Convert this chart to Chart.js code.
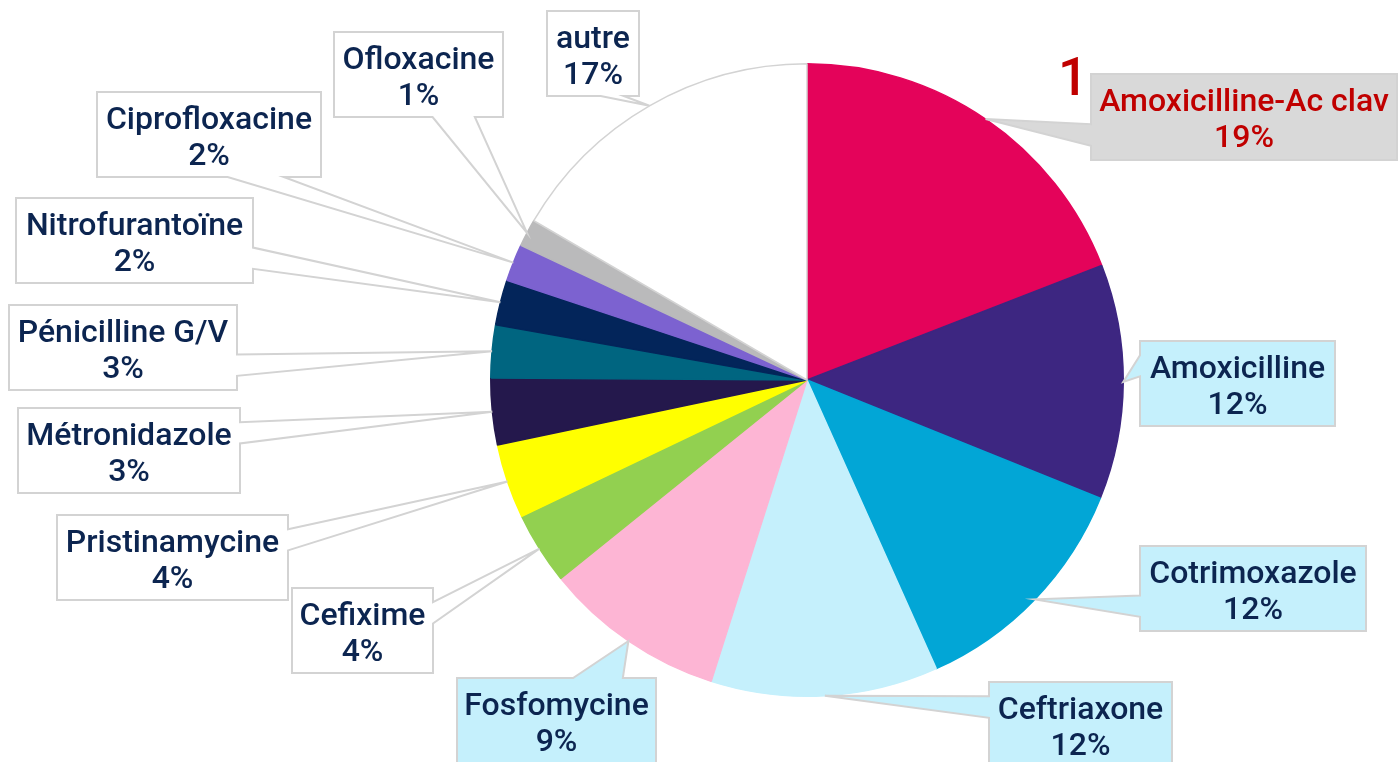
<!DOCTYPE html>
<html lang="fr">
<head>
<meta charset="utf-8">
<script src="https://cdn.jsdelivr.net/npm/chart.js@4/dist/chart.umd.min.js"></script>
<style>
    html, body { margin: 0; padding: 0; background: #ffffff; }
    #wrap { width: 1399px; height: 762px; position: relative; }
</style>
</head>
<body>
<div id="wrap"><canvas id="chart-antibio"></canvas></div>
<script>
const antibiotiques = ['Amoxicilline-Ac clav', 'Amoxicilline', 'Cotrimoxazole', 'Ceftriaxone', 'Fosfomycine', 'Cefixime', 'Pristinamycine', 'Métronidazole', 'Pénicilline G/V', 'Nitrofurantoïne', 'Ciprofloxacine', 'Ofloxacine', 'autre'];
const parts = [19.1, 12.0, 12.2, 11.6, 9.3, 3.7, 3.8, 3.4, 2.7, 2.3, 1.9, 1.4, 16.6];
const couleurs = ['#E4035A', '#3D2681', '#02A6D6', '#C5F0FC', '#FDB5D4', '#92D050', '#FFFF00', '#24184C', '#006580', '#03255A', '#7C62D0', '#BABABB', '#FFFFFF'];
const rang = '1';

// callout boxes (layout only): x, y, w, h, side of the wedge, fill, text colour
const boites = [
    { x: 1091, y: 74, w: 306, h: 86, side: 'left', fill: '#D9D9D9', color: '#C00000' },
    { x: 1140, y: 341, w: 195, h: 85, side: 'left', fill: '#C5F0FC' },
    { x: 1140, y: 546, w: 226, h: 85, side: 'left', fill: '#C5F0FC' },
    { x: 989, y: 682, w: 183, h: 86, side: 'left', fill: '#C5F0FC' },
    { x: 457, y: 678, w: 199, h: 86, side: 'top', fill: '#C5F0FC' },
    { x: 292, y: 588, w: 141, h: 85, side: 'right', fill: '#FFFFFF' },
    { x: 57, y: 515, w: 231, h: 85, side: 'right', fill: '#FFFFFF' },
    { x: 18, y: 408, w: 222, h: 85, side: 'right', fill: '#FFFFFF' },
    { x: 9, y: 305, w: 228, h: 85, side: 'right', fill: '#FFFFFF' },
    { x: 16, y: 198, w: 237, h: 85, side: 'right', fill: '#FFFFFF' },
    { x: 97, y: 92, w: 224, h: 85, side: 'bottom', fill: '#FFFFFF' },
    { x: 334, y: 32, w: 169, h: 85, side: 'bottom', fill: '#FFFFFF' },
    { x: 547, y: 11, w: 92, h: 85, side: 'bottom', fill: '#FFFFFF' }
];

const texteCouleur = '#0C2550';
const police = '500 32px Roboto';

function cheminBulle(ctx, b, tip) {
    const { x, y, w, h, side } = b;
    const cx = x + w / 2;
    const cy = y + h / 2;
    const fx = tip.x > cx ? [7, 10] : [2, 5];
    const fy = tip.y > cy ? [7, 10] : [2, 5];
    ctx.beginPath();
    ctx.moveTo(x, y);
    if (side === 'top') {
        ctx.lineTo(x + w * fx[0] / 12, y);
        ctx.lineTo(tip.x, tip.y);
        ctx.lineTo(x + w * fx[1] / 12, y);
    }
    ctx.lineTo(x + w, y);
    if (side === 'right') {
        ctx.lineTo(x + w, y + h * fy[0] / 12);
        ctx.lineTo(tip.x, tip.y);
        ctx.lineTo(x + w, y + h * fy[1] / 12);
    }
    ctx.lineTo(x + w, y + h);
    if (side === 'bottom') {
        ctx.lineTo(x + w * fx[1] / 12, y + h);
        ctx.lineTo(tip.x, tip.y);
        ctx.lineTo(x + w * fx[0] / 12, y + h);
    }
    ctx.lineTo(x, y + h);
    if (side === 'left') {
        ctx.lineTo(x, y + h * fy[1] / 12);
        ctx.lineTo(tip.x, tip.y);
        ctx.lineTo(x, y + h * fy[0] / 12);
    }
    ctx.closePath();
}

const bullesPlugin = {
    id: 'bulles',
    afterDatasetsDraw(chart) {
        const ctx = chart.ctx;
        const arcs = chart.getDatasetMeta(0).data;
        ctx.save();
        arcs.forEach((arc, i) => {
            const b = boites[i];
            const p = arc.getProps(['x', 'y', 'startAngle', 'endAngle', 'outerRadius'], true);
            const mid = (p.startAngle + p.endAngle) / 2;
            const tip = { x: p.x + Math.cos(mid) * p.outerRadius, y: p.y + Math.sin(mid) * p.outerRadius };
            cheminBulle(ctx, b, tip);
            ctx.fillStyle = b.fill;
            ctx.fill();
            ctx.lineWidth = 2;
            ctx.strokeStyle = '#D3D3D3';
            ctx.lineJoin = 'miter';
            ctx.stroke();

            const cx = b.x + b.w / 2;
            const cy = b.y + b.h / 2;
            ctx.fillStyle = b.color || texteCouleur;
            ctx.font = police;
            ctx.textAlign = 'center';
            ctx.textBaseline = 'alphabetic';
            ctx.fillText(antibiotiques[i], cx, cy - 6);
            ctx.fillText(`${Math.round(parts[i])}%`, cx, cy + 30);
        });
        ctx.fillStyle = '#C00000';
        ctx.font = '500 53px Roboto';
        ctx.textAlign = 'left';
        ctx.fillText(rang, 1058, 95);
        ctx.restore();
    }
};

new Chart(document.getElementById('chart-antibio'), {
    type: 'pie',
    data: {
        labels: antibiotiques,
        datasets: [{
            data: parts,
            backgroundColor: couleurs,
            borderColor: couleurs.map(c => (c === '#FFFFFF' ? '#D3D3D3' : c)),
            borderWidth: 1.5
        }]
    },
    options: {
        responsive: true,
        maintainAspectRatio: false,
        animation: false,
        layout: { padding: { top: 63, bottom: 65, left: 215, right: 0 } },
        plugins: {
            legend: { display: false },
            tooltip: { enabled: false }
        }
    },
    plugins: [bullesPlugin]
});
</script>
</body>
</html>
